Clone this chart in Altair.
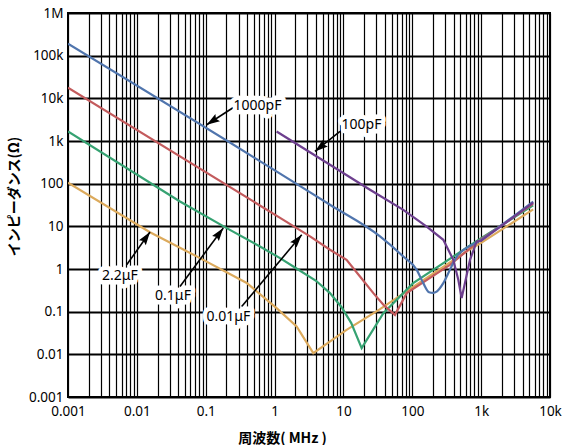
import math
import altair as alt
import pandas as pd

# ---------------- data ----------------
series = ["2.2μF", "0.1μF", "0.01μF", "1000pF", "100pF"]
line_colors = ["#dcaa5c", "#36a272", "#c35b5d", "#5075ad", "#6d3f8e"]
interp = ["linear", "linear", "linear", "monotone", "linear"]

freq_22uF = [0.001, 0.0155, 0.0826, 0.394, 1.07, 2.09, 3.65, 11.1, 34, 103, 617, 1000, 5700]
imp_22uF = [105, 7.3, 1.8, 0.47, 0.121, 0.045, 0.0107, 0.0375, 0.115, 0.38, 2.6, 4.1, 25]

freq_01uF = [0.001, 0.0423, 0.202, 0.614, 1.2, 1.95, 4.0, 6.38, 9.4, 13.0, 18.4, 38, 103, 1000, 5700]
imp_01uF = [1675, 38.3, 9.1, 3.37, 1.8, 1.1, 0.53, 0.272, 0.127, 0.054, 0.014, 0.092, 0.467, 5.3, 31]

freq_001uF = [0.001, 1.34, 3.27, 6.38, 11.1, 17.4, 27.2, 38, 56, 83, 352, 1000, 5700]
imp_001uF = [17700, 14.2, 5.8, 2.82, 1.64, 0.667, 0.272, 0.145, 0.084, 0.272, 1.25, 5.0, 34]

freq_1000pF = [0.001, 6.38, 34, 74, 116, 144.5, 175, 200, 226, 282, 352, 442, 1000, 5700]
imp_1000pF = [190000, 32, 5.8, 1.96, 0.957, 0.467, 0.285, 0.275, 0.295, 0.467, 0.957, 1.96, 4.8, 38]

freq_100pF = [1.07, 6.38, 24.3, 74, 162, 282, 394, 466, 521, 582, 689, 861, 1000, 5700]
imp_100pF = [1675, 277, 72, 24.4, 9.9, 4.84, 1.64, 0.558, 0.208, 0.467, 1.64, 4.42, 4.6, 36]

freqs = [freq_22uF, freq_01uF, freq_001uF, freq_1000pF, freq_100pF]
imps = [imp_22uF, imp_01uF, imp_001uF, imp_1000pF, imp_100pF]

# annotation labels: label centre, arrow tail, arrow head (MHz, ohm)
ann_text = ["1000pF", "100pF", "2.2μF", "0.1μF", "0.01μF"]
ann_lf = [0.565, 18.3, 0.00569, 0.0335, 0.213]
ann_lz = [6457, 2404, 0.674, 0.229, 0.0769]
ann_tf = [0.249, 8.91, 0.00711, 0.0423, 0.333]
ann_tz = [6026, 1675, 1.254, 0.389, 0.132]
ann_hf = [0.1033, 3.86, 0.01552, 0.180, 2.48]
ann_hz = [2404, 569, 7.33, 9.10, 6.34]

x_ticks = [0.001, 0.01, 0.1, 1, 10, 100, 1000, 10000]
x_labels = ["0.001", "0.01", "0.1", "1", "10", "100", "1k", "10k"]
y_ticks = [0.001, 0.01, 0.1, 1, 10, 100, 1000, 10000, 100000, 1000000]
y_labels = ["0.001", "0.01", "0.1", "1", "10", "100", "1k", "10k", "100k", "1M"]

# ---------------- layout ----------------
W, H = 482, 384
FONT = "Noto Sans"
JFONT = "Noto Sans CJK JP"

x_grid = [m * d for d in x_ticks[:-1] for m in range(1, 10)] + [x_ticks[-1]]


def label_expr(vals, labs):
    parts = [f"abs(datum.value - {float(v)!r}) < {float(v) * 1e-6!r} ? '{l}'" for v, l in zip(vals, labs)]
    return " : ".join(parts) + " : ''"


xscale = alt.Scale(type="log", domain=[x_ticks[0], x_ticks[-1]], nice=False)
yscale = alt.Scale(type="log", domain=[y_ticks[0], y_ticks[-1]], nice=False)

xaxis = alt.Axis(values=x_grid, labelExpr=label_expr(x_ticks, x_labels), ticks=False, domain=False,
                 grid=True, gridColor="black", gridWidth=1.2, gridOpacity=1,
                 labelFont=FONT, labelFontSize=13.5, labelColor="black", labelPadding=7,
                 labelOverlap=False, labelFlush=False,
                 title="周波数( MHz )", titleFont=JFONT, titleFontSize=14, titleFontWeight="bold",
                 titleColor="black", titleX=214, titleY=45, titleBaseline="alphabetic")
yaxis = alt.Axis(values=y_ticks, labelExpr=label_expr(y_ticks, y_labels), ticks=False, domain=False,
                 grid=True, gridColor="black", gridWidth=1.8, gridOpacity=1,
                 labelFont=FONT, labelFontSize=13.5, labelColor="black", labelPadding=5,
                 labelOverlap=False, labelFlush=False,
                 title="インピーダンス(Ω)", titleFont=JFONT, titleFontSize=14, titleFontWeight="bold",
                 titleColor="black", titleX=-50, titleY=183, titleBaseline="alphabetic")

layers = []
# axes/grid carrier
grid_df = pd.DataFrame({"f": [x_ticks[0]], "z": [y_ticks[0]]})
layers.append(alt.Chart(grid_df).mark_point(opacity=0).encode(
    x=alt.X("f:Q", scale=xscale, axis=xaxis),
    y=alt.Y("z:Q", scale=yscale, axis=yaxis)))

for name, col, ip, fs, zs in zip(series, line_colors, interp, freqs, imps):
    d = pd.DataFrame({"f": fs, "z": zs, "i": list(range(len(fs)))})
    layers.append(alt.Chart(d).mark_line(color=col, strokeWidth=2.2, interpolate=ip, clip=True).encode(
        x=alt.X("f:Q", scale=xscale), y=alt.Y("z:Q", scale=yscale), order="i:Q"))

# arrow angles in screen space
angles = []
for tf, tz, hf, hz in zip(ann_tf, ann_tz, ann_hf, ann_hz):
    dxp = (math.log10(hf) - math.log10(tf)) * W / 7
    dyp = -(math.log10(hz) - math.log10(tz)) * H / 9
    angles.append(math.degrees(math.atan2(dxp, -dyp)) % 360)

ann = pd.DataFrame({"label": ann_text, "lf": ann_lf, "lz": ann_lz, "tf": ann_tf, "tz": ann_tz,
                    "hf": ann_hf, "hz": ann_hz, "ang": angles})

layers.append(alt.Chart(ann).mark_rule(color="black", strokeWidth=1.6).encode(
    x=alt.X("tf:Q", scale=xscale), y=alt.Y("tz:Q", scale=yscale), x2="hf:Q", y2="hz:Q"))

arrow_shape = "M0,0L0.8,2.5L0,2.1L-0.8,2.5Z"
layers.append(alt.Chart(ann).mark_point(shape=arrow_shape, filled=True, color="black", opacity=1,
                                        size=110, strokeWidth=0).encode(
    x=alt.X("hf:Q", scale=xscale), y=alt.Y("hz:Q", scale=yscale),
    angle=alt.Angle("ang:Q", scale=None)))

layers.append(alt.Chart(ann).mark_text(font=FONT, fontSize=14, color="white", stroke="white",
                                       strokeWidth=9, strokeJoin="round").encode(
    x=alt.X("lf:Q", scale=xscale), y=alt.Y("lz:Q", scale=yscale), text="label:N"))
layers.append(alt.Chart(ann).mark_text(font=FONT, fontSize=14, color="black").encode(
    x=alt.X("lf:Q", scale=xscale), y=alt.Y("lz:Q", scale=yscale), text="label:N"))

chart = alt.layer(*layers).properties(
    width=W, height=H,
    autosize=alt.AutoSizeParams(type="none"),
    padding={"left": 68, "top": 13, "right": 13, "bottom": 48},
    background="white",
).configure_view(stroke="black", strokeWidth=2)

chart.save("out.html", embed_options={"renderer": "svg", "actions": False})
